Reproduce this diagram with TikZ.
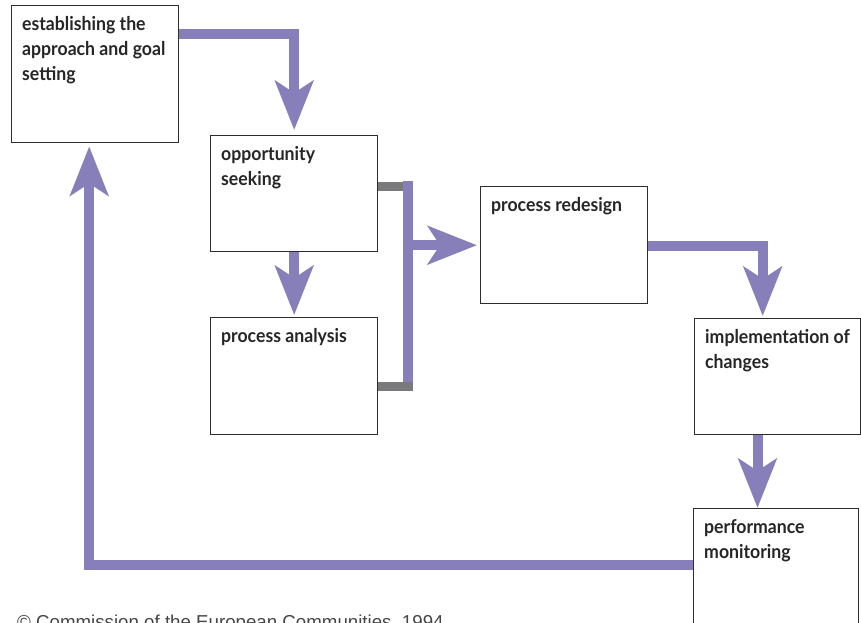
\documentclass[tikz,border=0pt]{standalone}
\usepackage{fontspec}
\setmainfont{Lato}[FakeStretch=0.93]
\newfontfamily\notefont{Liberation Sans}
\usetikzlibrary{arrows.meta,calc}
\definecolor{flowpurple}{RGB}{134,127,185}
\definecolor{stubgray}{RGB}{122,122,124}
\definecolor{boxline}{RGB}{45,45,45}
\definecolor{notegray}{RGB}{70,70,70}
\tikzset{
  stagebox/.style={draw=boxline, line width=1.4pt, fill=white, rectangle,
    anchor=north west, inner sep=0pt},
  stagetext/.style={anchor=north west, inner sep=0pt, align=left,
    font=\fontsize{19}{25}\selectfont\bfseries, text=black!85},
  flow/.style={draw=flowpurple, line width=10pt},
  flowarrow/.style={flow, -{Stealth[length=49pt, width=38pt, inset=12pt]}},
  stub/.style={draw=stubgray, line width=9pt}
}
\begin{document}
\begin{tikzpicture}[x=1pt, y={(0pt,-1pt)}]
\useasboundingbox (0,0) rectangle (861,623);
\clip (0,0) rectangle (861,623);
\fill[white] (0,0) rectangle (861,623);

% the six stages
\node[stagebox, minimum width=167pt, minimum height=137pt] (A) at (11,5) {};
\node[stagebox, minimum width=167pt, minimum height=116pt] (B) at (210,135) {};
\node[stagebox, minimum width=167pt, minimum height=117pt] (C) at (210,317) {};
\node[stagebox, minimum width=167pt, minimum height=117pt] (D) at (480,186) {};
\node[stagebox, minimum width=166pt, minimum height=116pt] (E) at (694,318) {};
\node[stagebox, minimum width=165pt, minimum height=140pt] (F) at (693,508) {};

% stage titles
\node[stagetext] (At) at ([xshift=11pt,yshift=-11pt]A.north west) {establishing the\\approach and goal\\setting};
\node[stagetext] (Bt) at ([xshift=11pt,yshift=-11pt]B.north west) {opportunity\\seeking};
\node[stagetext] (Ct) at ([xshift=11pt,yshift=-11pt]C.north west) {process analysis};
\node[stagetext] (Dt) at ([xshift=11pt,yshift=-11pt]D.north west) {process redesign};
\node[stagetext] (Et) at ([xshift=11pt,yshift=-11pt]E.north west) {implementation of\\changes};
\node[stagetext] (Ft) at ([xshift=11pt,yshift=-11pt]F.north west) {performance\\monitoring};

% junction collecting the two analysis stages
\coordinate (jt) at (408,186);
\coordinate (jb) at (408,386);

% connectors
\draw[flowarrow] ([yshift=-29pt]A.north east) -| ([yshift=5pt]B.north);
\draw[flowarrow] (B.south) -- ([yshift=2pt]C.north);
\draw[stub] ([yshift=-51pt]B.north east) -- (jt);
\draw[flow, line cap=rect] (jt) -- (jb);
\draw[stub] ([yshift=-69pt]C.north east) -- ([xshift=5pt]jb);
\draw[flowarrow] (jt |- D.west) -- ([xshift=-3pt]D.west);
\draw[flowarrow] ([yshift=-60pt]D.north east) -| ([xshift=-15pt,yshift=2pt]E.north);
\coordinate (ef) at ($(E.south west)+(63.5,0)$);
\draw[flowarrow] (ef) -- (ef |- F.north);
\draw[flowarrow] ([yshift=-56.5pt]F.north west) -| ([xshift=-6pt,yshift=-3pt]A.south);

% source note
\node[anchor=base west, inner sep=0pt, text=notegray,
  font=\notefont\fontsize{18.7}{20}\selectfont] (note) at (17,628)
  {\textcopyright\ Commission of the European Communities, 1994};
\end{tikzpicture}
\end{document}
